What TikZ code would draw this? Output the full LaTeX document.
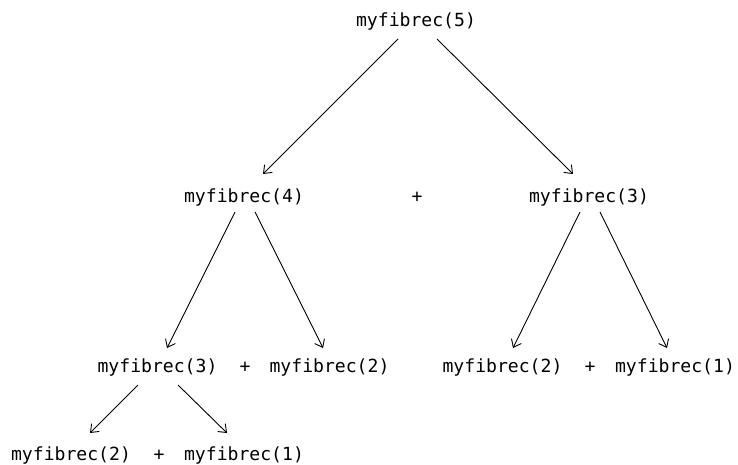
\documentclass[tikz,border=0pt]{standalone}
\usepackage{fontspec}
\setmonofont{DejaVu Sans Mono}
\usetikzlibrary{arrows.meta}
\tikzset{
  call/.style={anchor=base, inner sep=0pt, font=\fontsize{18.1pt}{20pt}\ttfamily},
  arr/.style={line width=0.9pt, -{Straight Barb[length=7pt,width=11pt,line width=0.9pt]}}
}
\begin{document}
\begin{tikzpicture}[x=1pt,y=1pt]
\useasboundingbox (0,0) rectangle (738,-465);
% row 1
\node[call] (n5) at (416,-27) {myfibrec(5)};
% row 2
\node[call] (n4) at (244,-202) {myfibrec(4)};
\node[call] (p1) at (417,-202) {+};
\node[call] (n3r) at (589,-202) {myfibrec(3)};
% row 3
\node[call] (n3) at (157.5,-372) {myfibrec(3)};
\node[call] (p2) at (245,-372) {+};
\node[call] (n2a) at (329.5,-372) {myfibrec(2)};
\node[call] (n2b) at (502.5,-372) {myfibrec(2)};
\node[call] (p3) at (590,-372) {+};
\node[call] (n1a) at (675,-372) {myfibrec(1)};
% row 4
\node[call] (n2c) at (71,-460) {myfibrec(2)};
\node[call] (p4) at (159,-460) {+};
\node[call] (n1b) at (244,-460) {myfibrec(1)};
% connectors
\draw[arr] ([shift={(-18,-12)}]n5.base) -- ([shift={(19,28)}]n4.base);
\draw[arr] ([shift={(21,-12)}]n5.base) -- ([shift={(-16,28)}]n3r.base);
\draw[arr] ([shift={(-9,-10)}]n4.base) -- ([shift={(9.5,24)}]n3.base);
\draw[arr] ([shift={(11,-10)}]n4.base) -- ([shift={(-6.5,24)}]n2a.base);
\draw[arr] ([shift={(-9,-10)}]n3r.base) -- ([shift={(10.5,24)}]n2b.base);
\draw[arr] ([shift={(11,-10)}]n3r.base) -- ([shift={(-8,24)}]n1a.base);
\draw[arr] ([shift={(-19.5,-13)}]n3.base) -- ([shift={(19,27)}]n2c.base);
\draw[arr] ([shift={(20.5,-13)}]n3.base) -- ([shift={(-17,27)}]n1b.base);
\end{tikzpicture}
\end{document}
